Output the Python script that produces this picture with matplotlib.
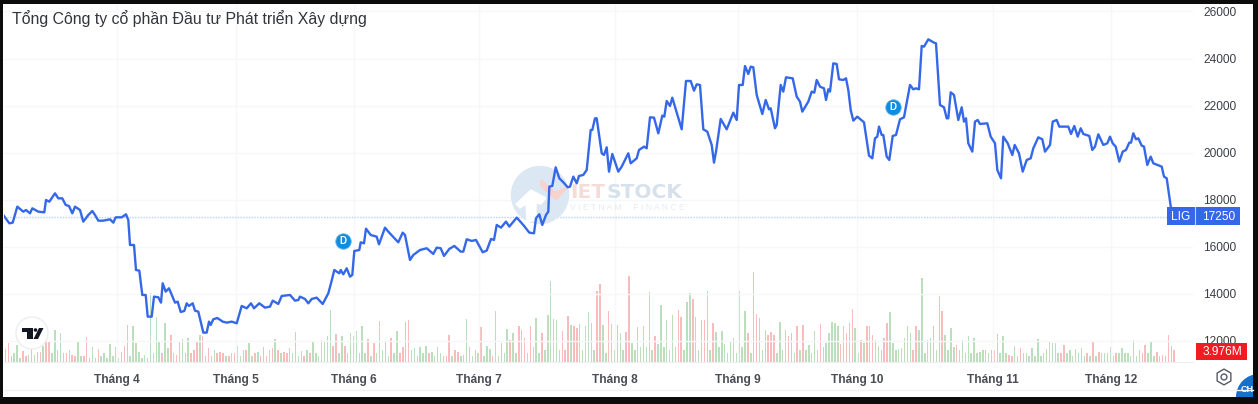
import numpy as np
import matplotlib
matplotlib.use("Agg")
import matplotlib.pyplot as plt
from matplotlib.patches import Circle, Rectangle, Polygon

plt.rcParams['font.family'] = ['Liberation Sans', 'DejaVu Sans']

title = "Tổng Công ty cổ phần Đầu tư Phát triển Xây dựng"
month_labels = ["Tháng 4", "Tháng 5", "Tháng 6", "Tháng 7", "Tháng 8", "Tháng 9", "Tháng 10", "Tháng 11", "Tháng 12"]
month_pos = [117, 236, 354, 479, 615, 738, 857, 993, 1111]
price_ticks = [12000, 14000, 16000, 18000, 20000, 22000, 24000, 26000]
last_price = 17250
last_volume = "3.976M"
ticker = "LIG"
dividend_pos = [343, 893]
dividend_val = [16235, 21936]

# time axis position / closing price
price_pos = [4, 9.3, 12.7, 17.3, 23.3, 26, 30, 32.3, 38.3, 44.3, 46, 49.3, 55, 58.3, 62.3, 65.7, 69, 72.3, 75, 80,
             83.3, 88.3, 92.3, 95, 98.3, 103.3, 106.7, 110, 113.3, 115.7, 121.7, 126, 128.3, 130, 134, 136, 139.3, 142.3, 145.7, 147.7,
             151.7, 154, 158.3, 161, 162.7, 165.7, 169, 175, 177.7, 180.7, 184.3, 186.7, 189, 192.7, 195, 198.3, 203.3, 206.7, 209, 210.7,
             213.3, 217.3, 222.7, 226.7, 231.7, 236.7, 241.7, 246.7, 251, 254, 259.3, 265, 270, 272.7, 278.3, 281.7, 290, 295, 298.3, 300,
             305, 308.3, 311.7, 316.7, 322.7, 328.3, 331, 334.3, 339.3, 340.7, 343.3, 346.7, 350, 352.3, 354.3, 359.3, 360.7, 364, 366, 370.7,
             376.7, 379, 385, 388.3, 398.3, 402.7, 405, 410, 413.3, 420, 426.7, 433.3, 436.7, 440.7, 444, 449.3, 454.3, 460.7, 463.3, 466.7,
             471.7, 476, 482.7, 486.7, 491, 494, 496.7, 501, 506, 509.3, 516.7, 523.3, 529.3, 534, 536, 539.3, 542.3, 546, 548.3, 549.3,
             552.3, 555.7, 559.3, 563.3, 567.7, 570, 573.3, 576.7, 579, 583.3, 586.7, 590.7, 592.3, 595, 596.7, 601.7, 604, 606.7, 609, 612.3,
             618.3, 621.7, 628.3, 630.7, 636.7, 639, 644, 646.7, 650, 654, 658.3, 662.3, 664.3, 666.7, 670, 672.3, 681.7, 686, 690.7, 694,
             696.7, 700, 703.3, 707.3, 711.7, 714, 716, 720.7, 726.7, 733.3, 736.7, 739, 742.7, 745, 748.3, 750.7, 753.3, 756.7, 762.3, 765.7,
             769, 770.7, 775, 776.7, 780.7, 783.3, 786, 792.7, 796.7, 800, 802.3, 808.3, 811.7, 814.3, 816.7, 820, 824, 826, 828.3, 830,
             833.3, 836.7, 839, 843.3, 846, 848.3, 850.7, 853.3, 857.3, 864, 869, 872.3, 875, 877.3, 879, 881.7, 883.3, 886.7, 889.3, 892.7,
             896, 900, 904, 910, 913.3, 916, 919, 921.7, 924, 928.3, 934, 936, 940, 944, 946.7, 948.3, 950.7, 954, 958.3, 961.7,
             964, 966, 968.3, 972.3, 975, 977.7, 980, 987.3, 990.7, 995, 997.3, 1001, 1003.3, 1007.7, 1012.3, 1014.7, 1019, 1022.7, 1026.7, 1030.7,
             1033.3, 1038.3, 1042.3, 1045, 1050, 1052.7, 1056.7, 1059.3, 1068.3, 1071, 1074.3, 1077.7, 1080.7, 1083.3, 1089.3, 1092.3, 1095, 1098.3, 1103.3, 1107.3,
             1110, 1112.7, 1115.7, 1119.3, 1122.7, 1126, 1129.3, 1131, 1133.3, 1136, 1138.3, 1141.7, 1144, 1147.3, 1150.7, 1153.3, 1161.7, 1164, 1166.7, 1171, 1172]
price_val = [17299, 16987, 17015, 17696, 17483, 17554, 17412, 17625, 17483, 17455, 17979, 17908, 18263, 18050, 18050, 17767, 17724, 17412, 17696, 17554,
             17058, 17341, 17511, 17341, 17100, 17100, 17128, 17157, 17015, 17242, 17242, 17370, 17128, 16065, 16065, 15001, 14973, 13938, 13938, 13016,
             13016, 13867, 13839, 13612, 14434, 14080, 14222, 13612, 13654, 13215, 13257, 13583, 13470, 13583, 13271, 13229, 12336, 12336, 12804, 12662,
             12903, 12959, 12804, 12761, 12804, 12733, 13470, 13371, 13583, 13371, 13583, 13399, 13442, 13697, 13555, 13895, 13938, 13697, 13725, 13867,
             13768, 13583, 13768, 13824, 13555, 14009, 14434, 15001, 14860, 15001, 14817, 15072, 14718, 14789, 15810, 15852, 16178, 16136, 16760, 16490,
             16419, 16093, 16802, 16632, 16178, 16590, 16490, 15427, 15640, 15852, 15925, 15684, 15953, 15925, 15599, 15897, 16024, 15783, 15783, 16308,
             16237, 16279, 15755, 15826, 16322, 16279, 16917, 16804, 17059, 16847, 17229, 16917, 16591, 16563, 17201, 17371, 16917, 17343, 17485, 18548,
             18577, 19371, 18903, 18733, 18520, 18548, 18974, 18690, 19002, 19045, 19257, 20959, 20959, 21455, 21455, 19966, 19895, 20221, 19186, 19938,
             19186, 19399, 19966, 19541, 19753, 20108, 20250, 20179, 21498, 21483, 20817, 21569, 21526, 22192, 21980, 22334, 20987, 23043, 23043, 22632,
             22901, 22873, 20987, 20888, 20321, 19569, 20037, 21427, 20987, 21696, 21384, 22873, 22873, 23681, 23341, 23653, 23625, 22448, 21639, 22235,
             21838, 21881, 21030, 21172, 22873, 22590, 23199, 23157, 22377, 22164, 21739, 22164, 22590, 22547, 23086, 22802, 22731, 22235, 22689, 22590,
             23795, 23766, 23114, 23086, 23157, 22660, 21810, 21356, 21526, 21285, 19867, 19753, 20604, 20675, 21101, 20746, 20746, 19824, 19682, 20704,
             20746, 21413, 21498, 22873, 22689, 22731, 22689, 24532, 24504, 24816, 24674, 24646, 22022, 21923, 21455, 21455, 22561, 22448, 21384, 21923,
             21313, 21455, 20392, 20037, 21313, 21384, 21214, 21242, 20675, 20392, 19257, 18903, 20675, 20392, 19895, 20321, 19966, 19186, 19682, 19753,
             20179, 20647, 20562, 20037, 20321, 21313, 21384, 21101, 21101, 20789, 21129, 20675, 21030, 20789, 20704, 20108, 20250, 20775, 20321, 20392,
             20675, 20392, 20250, 19612, 20037, 20108, 20420, 20420, 20817, 20562, 20604, 20292, 20250, 19470, 19824, 19541, 19399, 18974, 18903, 17627, 17250]

# volume in millions, one value per session, negative = red session
signed_volume = [-4.2, -6.3, 2, 3, 5.8, 1.5, -3.6, -2, 2.5, -4.2,
                 2.5, -3.2, -3.5, 5.2, -7, -7, 3, 10.8, -4, 9.7,
                 -3, -3, 4, -2.5, -2, 6.6, 2, -2, -8.2, -1.5,
                 5, 1.5, -4.4, 2, 3, 1.5, 6, 2, 4.9, 1.5,
                 -3.5, -5.2, -12.2, 2, 12, 6.4, 3.2, 1.5, 2.4, -1.5,
                 23, 3, 15, 6.9, -3, 13, 4.6, -8.9, 3, -2.5,
                 -6.9, 7.7, -3, 8, -3, -3.9, -6.9, 9.1, -8.6, -2,
                 -4.7, 2, 3.9, -3, -3.5, -3, 2, -2, 3, -3,
                 5.2, 2, -4, -4, 6.3, 2, -3, 3.2, -2, -4.9,
                 -2, 4, -4.7, 7.7, -4, 3, -3.5, -3, -4.6, 3,
                 9.9, 2, 3.6, -2, 3.9, -3, 7, 3, 2, 7.2,
                 6.7, 8.6, 17.4, -5.2, -9.4, 3, 8.6, -5.2, 3, 9.7,
                 -8.6, 10.4, 3, 12.1, 3, -7.7, 2, -6.3, 3, 13.8,
                 4, -6.7, 2, -8, 3, 10.2, -3, -5, -13.2, -13.9,
                 4, 4.6, -2, 5, 3, 5.5, -3, 3.5, 2, 5,
                 3, 2, -2, -9.1, 2, -4, -3.5, 2, 2.5, 14.3,
                 -5, 2, -4, 3, -11.6, 2, 5.2, 4.5, -2, 17,
                 2, -6.3, 3, 11, -7.5, 9.6, 3, -11.9, -10.8, -8,
                 3, -11.9, 5, 14.7, 3, -9.6, 4, 15.8, 26.9, 14.3,
                 13.9, 4, -10.3, -4, -15.2, 12.4, -11.9, -11.3, 12.8, 4,
                 11.9, 16.6, 13, 4, -23.6, -26, 12.4, 3, -17, 12.8,
                 4, -12.4, 9.6, 4, -9.9, -28.8, 6.3, 4, -11.7, 5,
                 12, 5, 23.3, 4, -8.6, 6, 19, 5, 14, 4,
                 15.8, 5, -17.4, -15, 4, 20, 23, -21, 15, 4,
                 -14, -13.9, -23.6, 4, -13, 10, 5, 10.4, 6, 3,
                 6.8, 8, 3, 23.6, 5, 17, -9.6, 3, -29.9, -16,
                 -14.7, 4, 10.8, -9.1, -9.9, -9.1, 3, 13.5, 4, 10.8,
                 -8.6, -9.7, 3, -11.9, 4, -12.4, 4, 5.8, 3, 10.3,
                 4, -12.7, 5, 6.3, 9.6, 13.2, 13, 11.9, -6, 12,
                 -9.6, -13, -17.7, 11.3, 3, -7.2, 6.3, -12, -12, -9,
                 7.2, 5.2, -4, -8, -13, 16.6, 6.3, 4, 4.2, 4.7,
                 8, 12, 9.7, -4, -12, 10.6, 28, 3, 7.5, 8,
                 -12, 4, -22, -17, 9, 4, 11.3, 5, -5.8, 4,
                 7.5, 3, 8.6, 3, 8, 3, 3.5, 4, 4, 3,
                 -4, -4, -9.4, 3, 8.8, 3, -2.5, -2, 5.2, 2,
                 -4.7, -3, 3, 2, 4.7, 2, 7.7, 2, 3, 4.5,
                 6.6, 6.5, 6.3, 3, -3, -5.8, 3, 4, 2, 4.2,
                 3, 4.7, 2, -3, 2, -6.9, 2, -3.5, 3, 3,
                 3, 5, 2, -3, 3, 4.7, 3, 3, 2, 7.5,
                 2, 4, -3, -5.8, 3, 6.9, 2, -3.5, 2, -2.5,
                 -2, -9.1, -5.2, -3.976]

W, H = 1258, 404
BLUE = '#3568e8'
TEXT = '#3a3e47'

fig = plt.figure(figsize=(W / 100, H / 100), dpi=100, facecolor='#0c0c0c')


def rect(x0, y0, x1, y1):
    # pixel box of the reference -> figure fraction
    return [x0 / W, 1 - y1 / H, (x1 - x0) / W, (y1 - y0) / H]


# white panel
panel = fig.add_axes(rect(3, 4, 1253, 397), facecolor='white')
panel.set_axis_off()
panel.add_patch(Rectangle((0, 0), 1, 1, transform=panel.transAxes, color='white'))

# volume below, price on top
ax_vol = fig.add_axes(rect(4, 4, 1193, 362), facecolor='none')
ax = fig.add_axes(rect(4, 4, 1193, 362), facecolor='none')

vol = np.array(signed_volume)
vol_x = 5.5 + 2.9 * np.arange(len(vol))
ax_vol.bar(vol_x, np.abs(vol), width=1.5, color=np.where(vol < 0, '#f9bcbe', '#bbdebd'), linewidth=0)
ax_vol.set_xlim(4, 1193)
ax_vol.set_ylim(0, 358 / 3)
ax_vol.set_axis_off()

ax.set_xlim(4, 1193)
ax.set_ylim(11086, 26319)
ax.set_xticks(month_pos)
ax.set_xticklabels(month_labels)
ax.set_yticks(price_ticks)
ax.yaxis.tick_right()
ax.tick_params(axis='both', length=0, labelcolor=TEXT, labelsize=8.6)
ax.tick_params(axis='x', pad=9)
ax.tick_params(axis='y', pad=7.5)
for lab in ax.get_xticklabels():
    lab.set_fontweight('bold')
    lab.set_color('#4a4d55')
ax.grid(True, color='#f6f7f9', linewidth=1)
ax.set_axisbelow(True)
for side in ax.spines:
    ax.spines[side].set_visible(False)
ax.spines['bottom'].set_visible(True)
ax.spines['bottom'].set_color('#eceef2')

ax.axhline(last_price, color='#bcd0f5', linewidth=1, linestyle=(0, (1, 1)), zorder=1)

# overlay in reference pixels for the watermark, badges and icons
ov = fig.add_axes([0, 0, 1, 1], facecolor='none')
ov.set_xlim(0, W)
ov.set_ylim(H, 0)
ov.set_axis_off()

# watermark sits under the line: draw into ax with pixel coordinates
to_px = ov.transData
ax.add_patch(Circle((540, 195), 28.5, transform=to_px, color='#dbe7f2', zorder=1.2))
ax.add_patch(Polygon([(516, 204), (531, 190), (546, 198), (541, 204), (536, 203), (536, 220), (527, 222), (526, 204), (520, 208)],
                     closed=True, transform=to_px, color='white', zorder=1.3))
ax.add_patch(Polygon([(541, 180), (555, 192), (568, 187), (556, 200), (541, 186)], closed=True,
                     transform=to_px, color='#f7d3cf', zorder=1.35))
ax.text(570, 193, "IET", transform=to_px, family='DejaVu Sans', color='#f6dcd8', fontsize=14.5, fontweight='bold',
        va='center', zorder=1.4)
ax.text(607, 193, "STOCK", transform=to_px, family='DejaVu Sans', color='#d6e1ec', fontsize=14.5, fontweight='bold',
        va='center', zorder=1.4)
ax.text(627, 207, "V I E T N A M     F I N A N C E", transform=to_px, color='#e6ebf1', fontsize=6.2, ha='center',
        va='center', zorder=1.4)

ax.plot(price_pos, price_val, color=BLUE, linewidth=1.7, solid_joinstyle='round', zorder=3)

# dividend markers
ax.scatter(dividend_pos, dividend_val, s=125, color='#0d8de0', edgecolor='#6fbcf0', linewidth=0.6, zorder=4)
for x, y in zip(dividend_pos, dividend_val):
    ax.text(x, y, "D", color='white', fontsize=7, fontweight='bold', ha='center', va='center', zorder=5)

fig.text(12 / W, 1 - 19 / H, title, fontsize=11.4, color='#32353c', va='center')

# last price badge
ov.add_patch(Rectangle((1167, 207), 73, 18, color=BLUE, linewidth=0))
ov.plot([1195, 1195], [207, 225], color='white', linewidth=0.8, alpha=0.7)
ov.text(1181, 216.5, ticker, color='white', fontsize=8.6, ha='center', va='center')
ov.text(1219, 216.5, str(last_price), color='white', fontsize=8.6, ha='center', va='center')

# last volume badge
ov.add_patch(Rectangle((1196, 343), 51, 17, color='#f01c22', linewidth=0))
ov.text(1222, 352, last_volume, color='white', fontsize=8.6, ha='center', va='center')

# tradingview logo
ov.add_patch(Circle((32, 333), 16, facecolor='white', edgecolor='#eeeeee', linewidth=1))
ov.add_patch(Polygon([(22, 328), (33, 328), (33, 339), (27, 339), (27, 332), (22, 332)], closed=True, color='#131722', linewidth=0))
ov.add_patch(Circle((35.5, 330), 1.8, color='#131722', linewidth=0))
ov.add_patch(Polygon([(39, 328), (43.5, 328), (38, 339), (33.5, 339)], closed=True, color='#131722', linewidth=0))

# separator under the time scale, settings icon, chat button
ov.plot([4, 1253], [390, 390], color='#f1f2f5', linewidth=1)
ov.scatter([1224], [377], marker='h', s=130, facecolor='none', edgecolor='#555a63', linewidth=1)
ov.scatter([1224], [377], marker='o', s=18, facecolor='none', edgecolor='#555a63', linewidth=1)
chat = Circle((1259, 397), 23, color='#1470c8', linewidth=0)
ov.add_patch(chat)
chat.set_clip_path(Rectangle((3, 4), 1250, 393, transform=ov.transData))
ov.text(1241, 390, "CH", color='white', fontsize=6.5, fontweight='bold', va='center')

fig.savefig('out.png', dpi=100, facecolor=fig.get_facecolor())
